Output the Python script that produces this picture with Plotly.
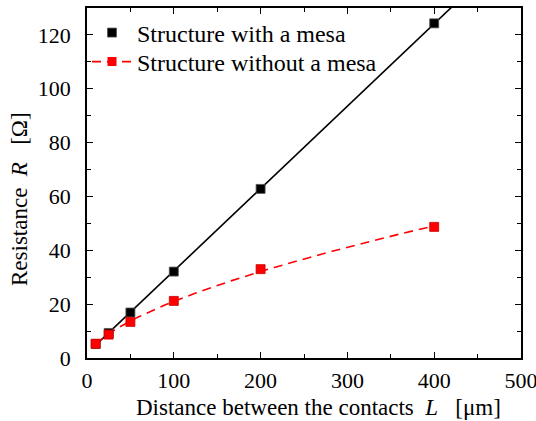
import numpy as np
import plotly.graph_objects as go

# Data
L_um = [10, 25, 50, 100, 200, 400]
R_mesa = [5.2, 9.3, 16.9, 32.1, 62.8, 124.3]
R_nomesa = [5.3, 8.7, 13.4, 21.2, 33.0, 48.7]
x_ticks = [0, 100, 200, 300, 400, 500]
y_ticks = [0, 20, 40, 60, 80, 100, 120]

FONT = "Liberation Serif"

# Linear fit for mesa structure
p = np.polyfit(L_um, R_mesa, 1)
xf1 = np.linspace(min(L_um), 440, 50)
yf1 = np.polyval(p, xf1)

# Power-law fit for structure without mesa
q = np.polyfit(np.log(L_um), np.log(R_nomesa), 1)
xf2 = np.linspace(min(L_um), max(L_um), 200)
yf2 = np.exp(np.polyval(q, np.log(xf2)))

DASH = "9px,6px"

fig = go.Figure()
fig.add_trace(go.Scatter(x=xf1, y=yf1, mode="lines", line=dict(color="black", width=1.6),
                         showlegend=False, hoverinfo="skip"))
fig.add_trace(go.Scatter(x=xf2, y=yf2, mode="lines", line=dict(color="#ff0000", width=1.6, dash=DASH),
                         showlegend=False, hoverinfo="skip"))
fig.add_trace(go.Scatter(x=L_um, y=R_mesa, mode="markers", name="Structure with a mesa",
                         legend="legend",
                         marker=dict(symbol="square", size=9, color="black",
                                     line=dict(color="#555", width=0.8))))
fig.add_trace(go.Scatter(x=L_um, y=R_nomesa, mode="markers", showlegend=False,
                         marker=dict(symbol="square", size=9, color="#ff0000",
                                     line=dict(color="#cc0000", width=0.8))))
# legend entry for the dashed red series
fig.add_trace(go.Scatter(x=[None], y=[None], mode="lines+markers", name="Structure without a mesa",
                         legend="legend2",
                         line=dict(color="#ff0000", width=1.6, dash=DASH),
                         marker=dict(symbol="square", size=9, color="#ff0000")))

axis_common = dict(showline=True, linecolor="black", linewidth=1.5, mirror="ticks",
                   ticks="inside", ticklen=6, tickwidth=1.3, tickcolor="black",
                   showgrid=False, zeroline=False, ticklabeloverflow="allow",
                   tickfont=dict(family=FONT, size=22, color="black"))

fig.update_xaxes(range=[0, 500], tickvals=x_ticks, ticklabelstandoff=2,
                 minor=dict(ticks="inside", dtick=50, ticklen=4, tickwidth=1.2, tickcolor="black"),
                 **axis_common)
fig.update_yaxes(range=[0, 130], tickvals=y_ticks, ticklabelstandoff=10,
                 minor=dict(ticks="inside", dtick=10, ticklen=4, tickwidth=1.2, tickcolor="black"),
                 **axis_common)

PL, PR, PT, PB, W, H = 87, 15, 8, 63, 536, 421
pw, ph = W - PL - PR, H - PT - PB

def px_x(px):
    return (px - PL) / pw

def px_y(py):
    return (H - PB - py) / ph

title_font = dict(family=FONT, size=23, color="black")
fig.add_annotation(text="Distance between the contacts\u00a0 <i>L</i>\u00a0\u00a0 [μm]",
                   xref="paper", yref="paper", x=px_x(318), y=px_y(407),
                   xanchor="center", yanchor="middle", showarrow=False, font=title_font)
fig.add_annotation(text="Resistance\u00a0 <i>R</i>\u00a0\u00a0 [Ω]",
                   xref="paper", yref="paper", x=px_x(19), y=px_y(199), textangle=-90,
                   xanchor="center", yanchor="middle", showarrow=False, font=title_font)

leg_common = dict(xanchor="left", yanchor="middle", bgcolor="rgba(0,0,0,0)",
                  font=dict(family=FONT, size=24, color="black"), itemwidth=40)

fig.update_layout(
    width=W, height=H,
    margin=dict(l=PL, r=PR, t=PT, b=PB, autoexpand=False),
    paper_bgcolor="white", plot_bgcolor="white",
    legend=dict(x=0, y=px_y(33), **leg_common),
    legend2=dict(x=0, y=px_y(62), **leg_common),
    font=dict(family=FONT),
)

fig.write_html("out.html", config={"displayModeBar": False},
               post_script="document.body.style.margin='0';document.body.style.padding='0';")
